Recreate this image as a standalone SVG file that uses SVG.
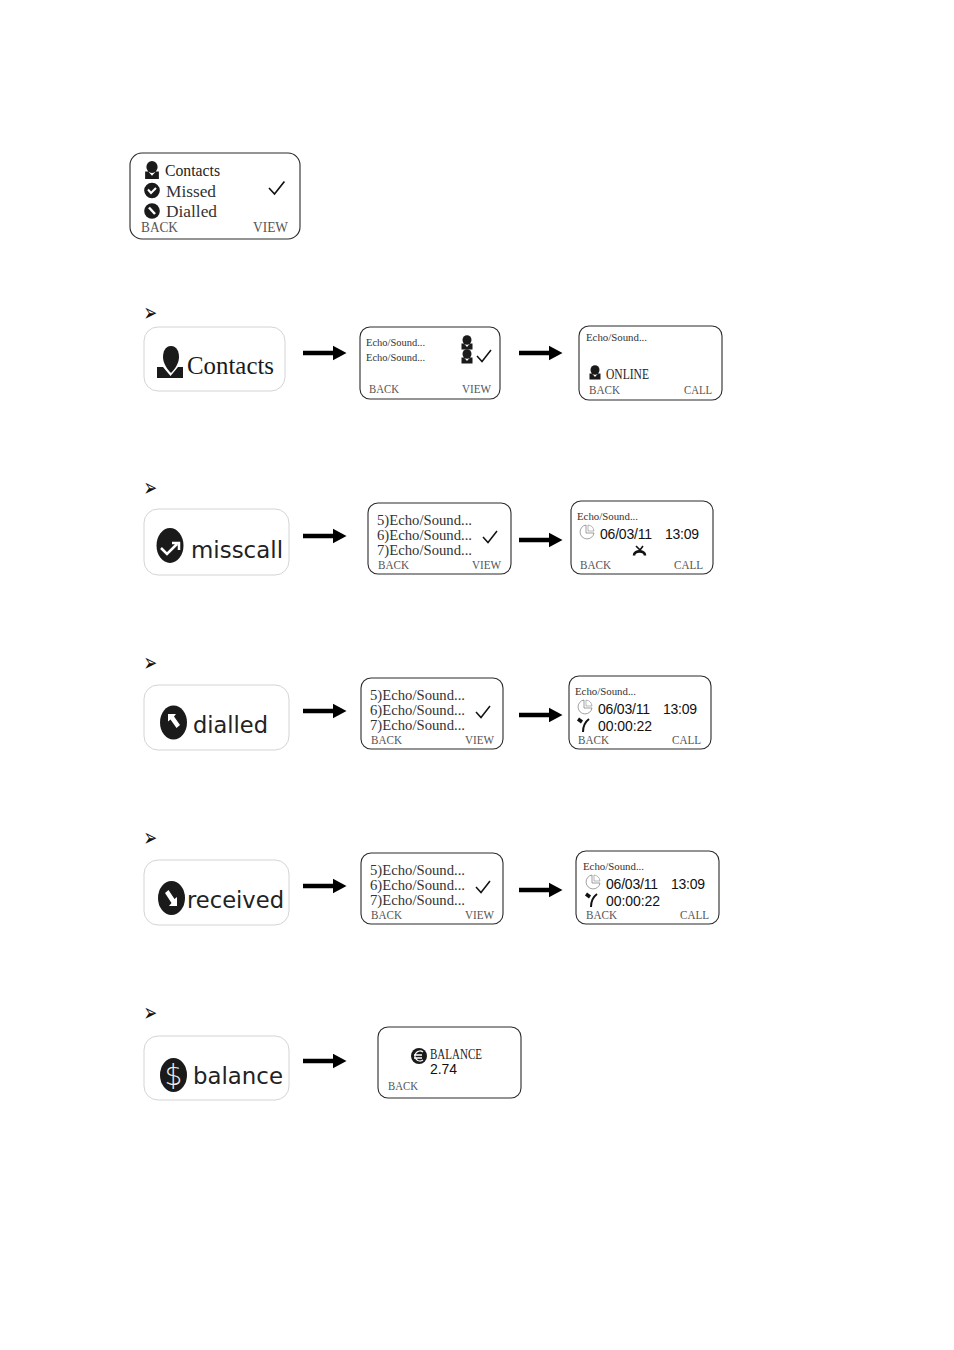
<svg xmlns="http://www.w3.org/2000/svg" width="954" height="1350" viewBox="0 0 954 1350">
<style>
.p{fill:#fff;stroke:#2a2a2a;stroke-width:1.1}
.b{fill:#fff;stroke:#d4d4d4;stroke-width:1}
text{font-family:"Liberation Serif",serif}
.s{font-size:14.5px;fill:#333}
.k{font-size:12.5px;fill:#555}
.e{font-size:10px;fill:#333}
.a{font-family:"Liberation Sans",Arial,sans-serif;font-size:14px;fill:#111}
.w{font-family:"DejaVu Sans",sans-serif;font-size:23px;fill:#222}
.m{font-size:16px;fill:#333}
.u{font-family:"DejaVu Sans",sans-serif;font-size:13px;fill:#111}
</style>
<defs>
<g id="arrow"><path d="M0-2.300H30V-7.300L43.500 0 30 7.300V2.300H0Z" fill="#000"/></g>
<g id="check"><path d="M0 0 5 5.500 14-6" fill="none" stroke="#111" stroke-width="1.500"/></g>
<g id="person"><ellipse cx="0" cy="-2" rx="4.500" ry="4.800" fill="#1a1a1a"/><path d="M-5.500 1.500H-3L0 5 3 1.500H5.500V7.500H-5.500Z" fill="#1a1a1a"/></g>
<g id="clock"><path d="M-1-7A7 7 0 1 0 7 1H-1Z" fill="none" stroke="#777" stroke-width=".7"/><path d="M1-7V-1H7A7 7 0 0 0 1-7" fill="none" stroke="#888" stroke-width=".6"/></g>
<g id="phone"><path d="M5-6C1-3-1 1-1 7" fill="none" stroke="#111" stroke-width="2"/><path d="M-6-6-2-3" fill="none" stroke="#111" stroke-width="3.500"/></g>
<g id="list"><text class="s" x="9" y="22" textLength="95" lengthAdjust="spacingAndGlyphs">5)Echo/Sound...</text><text class="s" x="9" y="37" textLength="95" lengthAdjust="spacingAndGlyphs">6)Echo/Sound...</text><text class="s" x="9" y="52" textLength="95" lengthAdjust="spacingAndGlyphs">7)Echo/Sound...</text><text class="k" x="10" y="66" textLength="31" lengthAdjust="spacingAndGlyphs">BACK</text><text class="k" x="104" y="66" textLength="29" lengthAdjust="spacingAndGlyphs">VIEW</text><use href="#check" x="115" y="34"/></g>
</defs>
<rect width="954" height="1350" fill="#fff"/>

<g id="connectors">
<use href="#arrow" x="303" y="353"/><use href="#arrow" x="519" y="353"/>
<use href="#arrow" x="303" y="536"/><use href="#arrow" x="519" y="540"/>
<use href="#arrow" x="303" y="711"/><use href="#arrow" x="519" y="715"/>
<use href="#arrow" x="303" y="886"/><use href="#arrow" x="519" y="890"/>
<use href="#arrow" x="303" y="1061"/>
</g>

<g id="menu">
<rect class="p" x="130" y="153" width="170" height="86" rx="12"/>
<g transform="translate(152 169.500) scale(1.250)"><use href="#person"/></g>
<circle cx="152" cy="190.500" r="7.800" fill="#1a1a1a"/><path d="M148 189.500 151 193 156 188" fill="none" stroke="#fff" stroke-width="2"/>
<circle cx="152" cy="211" r="7.800" fill="#1a1a1a"/><path d="M149 207.500 155 214" fill="none" stroke="#fff" stroke-width="2.500"/>
<text class="m" x="165" y="176" textLength="55" lengthAdjust="spacingAndGlyphs" style="fill:#222">Contacts</text>
<text class="m" x="166" y="197" textLength="50" lengthAdjust="spacingAndGlyphs">Missed</text>
<text class="m" x="166" y="217" textLength="51" lengthAdjust="spacingAndGlyphs">Dialled</text>
<text class="k" x="141" y="232" textLength="37" lengthAdjust="spacingAndGlyphs" style="font-size:14.500px">BACK</text>
<text class="k" x="253" y="232" textLength="35" lengthAdjust="spacingAndGlyphs" style="font-size:14.500px">VIEW</text>
<g transform="translate(269 188) scale(1.100)"><use href="#check"/></g>
</g>

<g id="bullets">
<text class="u" transform="translate(143.500 320.500) scale(1.250 1.900)">➢</text>
<text class="u" transform="translate(143.500 495.500) scale(1.250 1.900)">➢</text>
<text class="u" transform="translate(143.500 670.500) scale(1.250 1.900)">➢</text>
<text class="u" transform="translate(143.500 845.500) scale(1.250 1.900)">➢</text>
<text class="u" transform="translate(143.500 1020.500) scale(1.250 1.900)">➢</text>
</g>

<g id="btn-contacts">
<rect class="b" x="144" y="327" width="141" height="64" rx="14"/>
<path d="M171 346C177 346 179 352 179 357 179 364 174 370 171 373 168 370 163 364 163 357 163 352 165 346 171 346Z" fill="#1a1a1a"/>
<path d="M157 367H163L170.500 376 178 367H183V378H157Z" fill="#1a1a1a"/>
<text x="187" y="374" style="font-size:25px;fill:#1a1a1a" textLength="87" lengthAdjust="spacingAndGlyphs">Contacts</text>
</g>
<g id="contacts-list">
<rect class="p" x="360" y="327" width="140" height="72" rx="10"/>
<text class="e" x="366" y="346" textLength="59" lengthAdjust="spacingAndGlyphs">Echo/Sound...</text>
<text class="e" x="366" y="361" textLength="59" lengthAdjust="spacingAndGlyphs">Echo/Sound...</text>
<use href="#person" x="467" y="342"/><use href="#person" x="467" y="356"/>
<use href="#check" x="477" y="356"/>
<text class="k" x="369" y="393" textLength="30" lengthAdjust="spacingAndGlyphs">BACK</text>
<text class="k" x="462" y="393" textLength="29" lengthAdjust="spacingAndGlyphs">VIEW</text>
</g>
<g id="contacts-online">
<rect class="p" x="579" y="326" width="143" height="74" rx="10"/>
<text class="e" x="586" y="341" textLength="61" lengthAdjust="spacingAndGlyphs">Echo/Sound...</text>
<use href="#person" x="595" y="372"/>
<text class="m" x="606" y="379" textLength="43" lengthAdjust="spacingAndGlyphs" style="font-size:14px;fill:#222">ONLINE</text>
<text class="k" x="589" y="394" textLength="31" lengthAdjust="spacingAndGlyphs">BACK</text>
<text class="k" x="684" y="394" textLength="28" lengthAdjust="spacingAndGlyphs">CALL</text>
</g>

<g id="btn-misscall">
<rect class="b" x="144" y="509" width="145" height="66" rx="14"/>
<ellipse cx="170" cy="545.500" rx="13.500" ry="17.500" fill="#1a1a1a"/>
<path d="M161 548 167 554 177 544M172 543H179V550" fill="none" stroke="#fff" stroke-width="2.500"/>
<text class="w" x="191" y="558" textLength="92" lengthAdjust="spacingAndGlyphs">misscall</text>
</g>
<g id="misscall-list"><rect class="p" x="368" y="503" width="143" height="71" rx="10"/><use href="#list" x="368" y="503"/></g>
<g id="misscall-detail">
<rect class="p" x="571" y="501" width="142" height="73" rx="10"/>
<text class="e" x="577" y="520" textLength="61" lengthAdjust="spacingAndGlyphs">Echo/Sound...</text>
<use href="#clock" x="587" y="532"/>
<text class="a" x="600" y="539" textLength="52">06/03/11</text>
<text class="a" x="665" y="539" textLength="34">13:09</text>
<path d="M636 546 640 550 643 546" fill="none" stroke="#111" stroke-width="1.600"/>
<path d="M634 555.500C634 550 645 550 645 555.500" fill="none" stroke="#111" stroke-width="2.600"/>
<text class="k" x="580" y="569" textLength="31" lengthAdjust="spacingAndGlyphs">BACK</text>
<text class="k" x="674" y="569" textLength="29" lengthAdjust="spacingAndGlyphs">CALL</text>
</g>

<g id="btn-dialled">
<rect class="b" x="144" y="685" width="145" height="65" rx="14"/>
<ellipse cx="173.500" cy="722.500" rx="13.500" ry="17" fill="#1a1a1a"/>
<path d="M168 714H176L174 716.500 180 725 176.500 728 170.500 719.500 168 721.500Z" fill="#fff"/>
<text class="w" x="193" y="733" textLength="75" lengthAdjust="spacingAndGlyphs">dialled</text>
</g>
<g id="dialled-list"><rect class="p" x="361" y="678" width="142" height="71" rx="10"/><use href="#list" x="361" y="678"/></g>
<g id="dialled-detail">
<rect class="p" x="569" y="676" width="142" height="73" rx="10"/>
<text class="e" x="575" y="695" textLength="61" lengthAdjust="spacingAndGlyphs">Echo/Sound...</text>
<use href="#clock" x="585" y="707"/>
<text class="a" x="598" y="714" textLength="52">06/03/11</text>
<text class="a" x="663" y="714" textLength="34">13:09</text>
<use href="#phone" x="584" y="725"/>
<text class="a" x="598" y="731" textLength="54">00:00:22</text>
<text class="k" x="578" y="744" textLength="31" lengthAdjust="spacingAndGlyphs">BACK</text>
<text class="k" x="672" y="744" textLength="29" lengthAdjust="spacingAndGlyphs">CALL</text>
</g>

<g id="btn-received">
<rect class="b" x="144" y="860" width="145" height="65" rx="14"/>
<ellipse cx="171.500" cy="898" rx="13.500" ry="17" fill="#1a1a1a"/>
<path d="M165 893 168.500 890 174.500 899 177 897V906H169L171.500 903Z" fill="#fff"/>
<text class="w" x="187" y="908" textLength="97" lengthAdjust="spacingAndGlyphs">received</text>
</g>
<g id="received-list"><rect class="p" x="361" y="853" width="142" height="71" rx="10"/><use href="#list" x="361" y="853"/></g>
<g id="received-detail">
<rect class="p" x="576" y="851" width="143" height="73" rx="10"/>
<text class="e" x="583" y="870" textLength="61" lengthAdjust="spacingAndGlyphs">Echo/Sound...</text>
<use href="#clock" x="593" y="882"/>
<text class="a" x="606" y="889" textLength="52">06/03/11</text>
<text class="a" x="671" y="889" textLength="34">13:09</text>
<use href="#phone" x="592" y="900"/>
<text class="a" x="606" y="906" textLength="54">00:00:22</text>
<text class="k" x="586" y="919" textLength="31" lengthAdjust="spacingAndGlyphs">BACK</text>
<text class="k" x="680" y="919" textLength="29" lengthAdjust="spacingAndGlyphs">CALL</text>
</g>

<g id="btn-balance">
<rect class="b" x="144" y="1036" width="145" height="64" rx="14"/>
<ellipse cx="173.500" cy="1075" rx="13.500" ry="17" fill="#1a1a1a"/>
<text x="173.500" y="1085" text-anchor="middle" style="font-size:28px;fill:#eee;font-family:'DejaVu Sans',sans-serif;font-weight:200">$</text>
<text class="w" x="193" y="1084" textLength="90" lengthAdjust="spacingAndGlyphs">balance</text>
</g>
<g id="balance-screen">
<rect class="p" x="378" y="1027" width="143" height="71" rx="10"/>
<circle cx="419" cy="1056" r="8" fill="#1a1a1a"/>
<path d="M423 1052A5 5 0 1 0 423 1060M414 1055H422M414 1058H422" fill="none" stroke="#fff" stroke-width="1.300"/>
<text x="430" y="1059" textLength="52" lengthAdjust="spacingAndGlyphs" style="font-size:14px;fill:#222">BALANCE</text>
<text class="a" x="430" y="1074" textLength="27">2.74</text>
<text class="k" x="388" y="1090" textLength="30" lengthAdjust="spacingAndGlyphs">BACK</text>
</g>
</svg>
